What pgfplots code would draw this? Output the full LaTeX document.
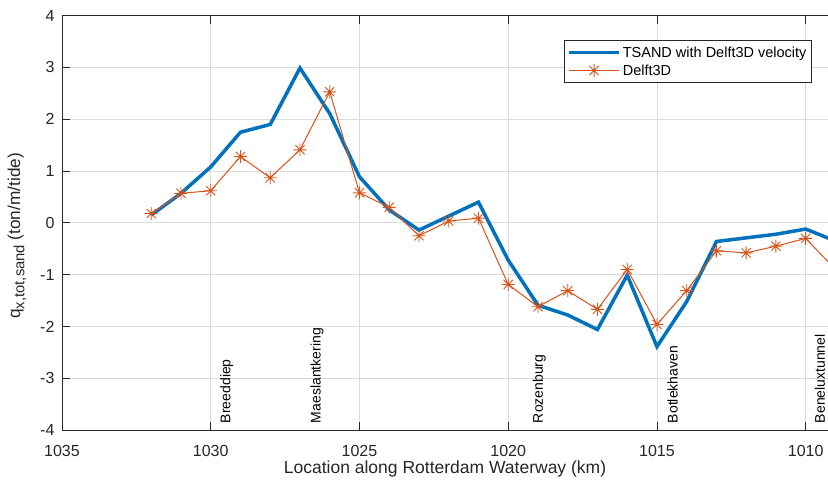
\documentclass[border=0pt]{standalone}
\usepackage{pgfplots}
\pgfplotsset{compat=1.18}
\usepackage{fontspec}
\setmainfont{Liberation Sans}
\usetikzlibrary{calc}
\definecolor{mblue}{RGB}{0,114,189}
\definecolor{morange}{RGB}{217,83,25}
\pgfdeclareplotmark{mstar}{%
 \pgfpathmoveto{\pgfqpoint{0pt}{\pgfplotmarksize}}\pgfpathlineto{\pgfqpoint{0pt}{-\pgfplotmarksize}}%
 \pgfpathmoveto{\pgfqpoint{\pgfplotmarksize}{0pt}}\pgfpathlineto{\pgfqpoint{-\pgfplotmarksize}{0pt}}%
 \pgfpathmoveto{\pgfqpoint{0.7071\pgfplotmarksize}{0.7071\pgfplotmarksize}}\pgfpathlineto{\pgfqpoint{-0.7071\pgfplotmarksize}{-0.7071\pgfplotmarksize}}%
 \pgfpathmoveto{\pgfqpoint{0.7071\pgfplotmarksize}{-0.7071\pgfplotmarksize}}\pgfpathlineto{\pgfqpoint{-0.7071\pgfplotmarksize}{0.7071\pgfplotmarksize}}%
 \pgfusepathqstroke}
\begin{document}
\begin{tikzpicture}
\begin{axis}[
  scale only axis, width=766pt, height=414.3pt,
  x dir=reverse, xmin=1009.25, xmax=1035, ymin=-4, ymax=4,
  xtick={1010,1015,1020,1025,1030,1035},
  ytick={-4,-3,-2,-1,0,1,2,3,4},
  axis x line*=box, axis y line*=left,
  axis line style={black!85, line width=0.8pt},
  tick align=inside, major tick length=8pt,
  tick style={black!85, line width=0.8pt},
  grid=major, grid style={black!14, line width=0.8pt},
  /pgf/number format/assume math mode=true,
  /pgf/number format/1000 sep={},
  ticklabel style={font=\fontsize{16}{18}\selectfont, text=black!85},
  xticklabel style={yshift=-12pt},
  yticklabel style={xshift=-4pt},
  xlabel={Location along Rotterdam Waterway (km)},
  xlabel style={font=\fontsize{17.5}{19}\selectfont, text=black!85, yshift=3pt},
  legend style={at={(rel axis cs:0.979,0.941)}, anchor=north east,
    font=\fontsize{14.5}{16}\selectfont, draw=black!85, line width=0.8pt,
    inner xsep=3pt, inner ysep=4pt, row sep=2pt},
  legend cell align=left,
  legend image code/.code={\draw[#1] (0pt,0pt) -- (50pt,0pt); \path[#1, only marks] plot coordinates {(25pt,0pt)};},
]
\coordinate (ll) at (rel axis cs:0,0);
\coordinate (ur) at (rel axis cs:1,1);
\coordinate (lm) at (rel axis cs:0,0.5);
\addplot[mblue, line width=3.5pt, mark=none] coordinates {
(1032,0.15) (1031,0.57) (1030,1.08) (1029,1.75) (1028,1.90) (1027,2.99)
(1026,2.11) (1025,0.89) (1024,0.25) (1023,-0.14) (1022,0.13) (1021,0.40)
(1020,-0.72) (1019,-1.59) (1018,-1.78) (1017,-2.06) (1016,-1.01) (1015,-2.39)
(1014,-1.52) (1013,-0.36) (1012,-0.29) (1011,-0.22) (1010,-0.12) (1009,-0.35)};
\addlegendentry{TSAND with Delft3D velocity}
\addplot[morange, line width=1pt, mark=mstar, mark size=6.5pt, mark options={line width=0.9pt}] coordinates {
(1032,0.18) (1031,0.57) (1030,0.62) (1029,1.28) (1028,0.87) (1027,1.41)
(1026,2.53) (1025,0.58) (1024,0.30) (1023,-0.25) (1022,0.035) (1021,0.09)
(1020,-1.19) (1019,-1.62) (1018,-1.31) (1017,-1.67) (1016,-0.90) (1015,-1.96)
(1014,-1.31) (1013,-0.54) (1012,-0.58) (1011,-0.45) (1010,-0.30) (1009,-0.90)};
\addlegendentry{Delft3D}
\begin{scope}[every node/.style={rotate=90, anchor=west, font=\fontsize{14}{16}\selectfont, inner sep=0pt, text=black}]
\node at (axis cs:1029.46,-3.87) {Breeddiep};
\node at (axis cs:1026.43,-3.87) {Maeslantkering};
\node at (axis cs:1018.96,-3.87) {Rozenburg};
\node at (axis cs:1014.47,-3.87) {Botlekhaven};
\node at (axis cs:1009.52,-3.87) {Beneluxtunnel};
\end{scope}
\end{axis}
\node[xshift=-45pt, yshift=-13pt, rotate=90, inner sep=0pt, text=black!85, font=\fontsize{17.2}{19}\selectfont] at (lm)
  {q\raisebox{-0.45ex}{\fontsize{14.8}{16}\selectfont x,tot,sand} (ton/m/tide)};
\pgfresetboundingbox
\useasboundingbox ($(ll)+(-62pt,-52pt)$) rectangle ($(ur)+(0pt,15.7pt)$);
\end{tikzpicture}
\end{document}
